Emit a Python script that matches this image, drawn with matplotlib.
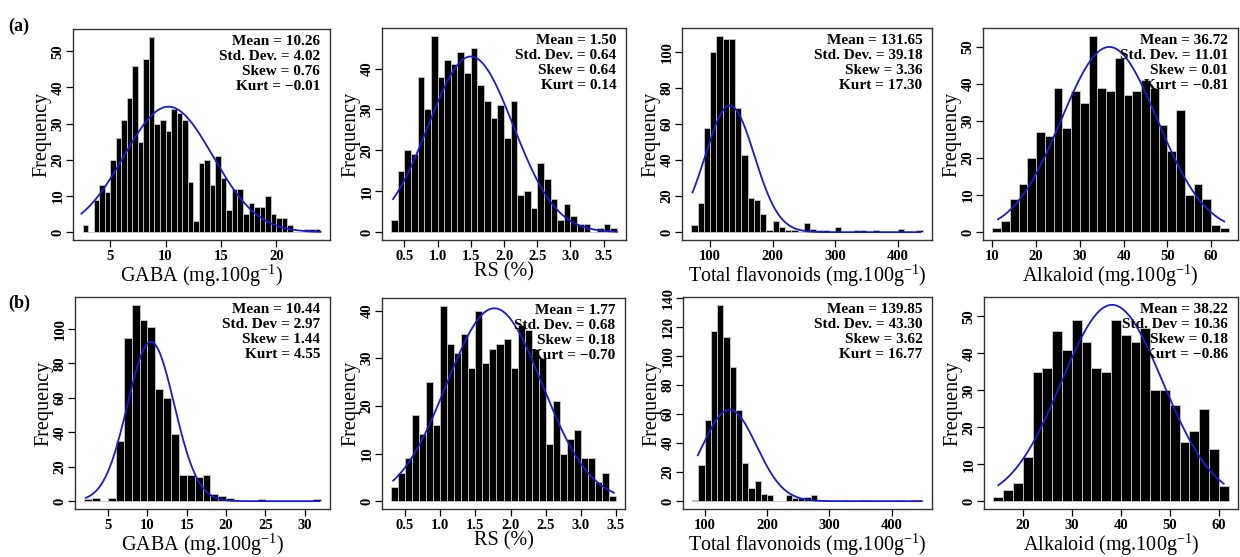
import numpy as np
import matplotlib
matplotlib.use('Agg')
import matplotlib.pyplot as plt

plt.rcParams['font.family'] = ['Liberation Serif', 'DejaVu Serif']
plt.rcParams['mathtext.default'] = 'regular'

## row (a) - histogram counts, bins of fixed width starting at *_start
gaba_a_start, gaba_a_width = 2.5, 0.5
gaba_a_counts = [2, 0, 9, 13, 11, 20, 26, 31, 37, 46, 25, 48, 54, 30, 31, 28, 34, 33, 31, 14, 3,
                 19, 20, 13, 21, 15, 6, 12, 12, 5, 8, 7, 7, 10, 5, 4, 4, 2, 0, 0, 1, 1, 1]
rs_a_start, rs_a_width = 0.3, 0.1
rs_a_counts = [3, 15, 20, 19, 38, 30, 48, 38, 42, 41, 44, 39, 45, 36, 32, 28, 31, 23, 32, 9, 10,
               6, 17, 13, 8, 3, 7, 4, 2, 2, 0, 1, 2, 1]
flav_a_start, flav_a_width = 70, 10
flav_a_counts = [4, 16, 58, 100, 109, 107, 107, 69, 43, 19, 18, 10, 1, 6, 3, 1, 1, 0, 5, 2, 1, 1,
                 0, 3, 0, 0, 1, 1, 0, 1, 0, 0, 0, 2, 0, 0, 1]
alk_a_start, alk_a_width = 10, 2
alk_a_counts = [1, 3, 9, 13, 20, 27, 26, 39, 28, 38, 35, 53, 39, 38, 47, 37, 38, 41, 39, 29, 22,
                33, 10, 13, 9, 2, 1]

## row (b)
gaba_b_start, gaba_b_width = 2, 1
gaba_b_counts = [1, 2, 0, 2, 35, 95, 114, 105, 101, 65, 60, 39, 15, 15, 14, 15, 4, 3, 2, 0, 0, 0,
                 1, 0, 0, 0, 0, 0, 0, 1]
rs_b_start, rs_b_width = 0.3, 0.1
rs_b_counts = [3, 6, 9, 18, 14, 25, 16, 41, 33, 31, 35, 28, 40, 29, 32, 33, 34, 28, 37, 36, 32, 30,
               12, 21, 10, 13, 15, 9, 9, 4, 6, 1]
flav_b_start, flav_b_width = 80, 10
flav_b_counts = [1, 25, 56, 117, 135, 113, 92, 63, 26, 9, 14, 5, 4, 0, 0, 4, 2, 2, 3, 4, 1, 1, 0,
                 0, 1, 0, 0, 1, 1, 0, 0, 0, 0, 1, 0, 1, 1]
alk_b_start, alk_b_width = 14, 2
alk_b_counts = [1, 3, 5, 12, 35, 36, 46, 41, 49, 43, 36, 35, 49, 45, 43, 47, 30, 30, 26, 16, 19,
                25, 14, 4]

## summary statistics printed in each panel (mean, sd used for the normal curve)
means = [10.26, 1.50, 131.65, 36.72, 10.44, 1.77, 139.85, 38.22]
sds = [4.02, 0.64, 39.18, 11.01, 2.97, 0.68, 43.30, 10.36]
skews = ['0.76', '0.64', '3.36', '0.01', '1.44', '0.18', '3.62', '0.18']
kurts = ['\u22120.01', '0.14', '17.30', '\u22120.81', '4.55', '\u22120.70', '16.77', '\u22120.86']
sd_names = ['Std. Dev.', 'Std. Dev.', 'Std. Dev.', 'Std. Dev.', 'Std. Dev', 'Std. Dev.',
            'Std. Dev.', 'Std. Dev']
# data range the fitted curve is drawn over
curve_lo = [2.4, 0.33, 72, 11.3, 2.2, 0.33, 89, 15]
curve_hi = [24, 3.7, 436, 63, 31.8, 3.47, 448, 61]

xlabels = ['GABA (mg.100g$^{-1}$)', 'RS (%)', 'Total flavonoids (mg.100g$^{-1}$)',
           'Alkaloid (mg.100g$^{-1}$)'] * 2
xticks = [[5, 10, 15, 20], [0.5, 1.0, 1.5, 2.0, 2.5, 3.0, 3.5], [100, 200, 300, 400],
          [10, 20, 30, 40, 50, 60],
          [5, 10, 15, 20, 25, 30], [0.5, 1.0, 1.5, 2.0, 2.5, 3.0, 3.5], [100, 200, 300, 400],
          [20, 30, 40, 50, 60]]
yticks = [range(0, 51, 10), range(0, 41, 10), range(0, 101, 20), range(0, 51, 10),
          range(0, 101, 20), range(0, 41, 10), range(0, 141, 20), range(0, 51, 10)]

hists = [(gaba_a_start, gaba_a_width, gaba_a_counts), (rs_a_start, rs_a_width, rs_a_counts),
         (flav_a_start, flav_a_width, flav_a_counts), (alk_a_start, alk_a_width, alk_a_counts),
         (gaba_b_start, gaba_b_width, gaba_b_counts), (rs_b_start, rs_b_width, rs_b_counts),
         (flav_b_start, flav_b_width, flav_b_counts), (alk_b_start, alk_b_width, alk_b_counts)]

# axes boxes in pixels (left, right, top, bottom) on a 1240x557 canvas
W, H = 1240, 557
boxes = [(73, 330, 29, 240), (382, 626, 28, 240), (682, 932, 28, 240), (983, 1238, 28, 240),
         (75, 330, 297, 509), (382, 625, 298, 509), (683, 932, 297, 509), (984, 1238, 297, 509)]

fig = plt.figure(figsize=(W / 100, H / 100), dpi=100)

for i in range(8):
    l, r, t, b = boxes[i]
    ax = fig.add_axes([l / W, 1 - b / H, (r - l) / W, (b - t) / H])
    start, width, counts = hists[i]
    counts = np.array(counts)
    edges = start + width * np.arange(len(counts) + 1)
    ax.bar(edges[:-1], counts, width=width, align='edge', color='black',
           edgecolor='#c8c8c8', linewidth=0.6)

    n = counts.sum()
    xs = np.linspace(curve_lo[i], curve_hi[i], 300)
    ys = n * width * np.exp(-0.5 * ((xs - means[i]) / sds[i]) ** 2) / (sds[i] * np.sqrt(2 * np.pi))
    ax.plot(xs, ys, color='#1a1ad0', linewidth=1.3)

    # R style 4% padding
    span = edges[-1] - edges[0]
    ax.set_xlim(edges[0] - 0.04 * span, edges[-1] + 0.04 * span)
    ymax = max(counts.max(), ys.max())
    ax.set_ylim(-0.04 * ymax, 1.04 * ymax)

    ax.set_xticks(xticks[i])
    ax.set_xticklabels([f'{v:.1f}' if isinstance(v, float) else str(v) for v in xticks[i]])
    ax.set_yticks(list(yticks[i]))
    ax.tick_params(direction='out', length=5, width=0.9, labelsize=10.5)
    ax.tick_params(axis='x', pad=2)
    ax.tick_params(axis='y', pad=1)
    for lab in ax.get_xticklabels():
        lab.set_fontweight('bold')
    for lab in ax.get_yticklabels():
        lab.set_fontweight('bold')
        lab.set_rotation(90)
        lab.set_va('center')
    for sp in ax.spines.values():
        sp.set_linewidth(1.0)
        sp.set_color('#333333')

    ax.set_xlabel(xlabels[i], fontsize=14.5, labelpad=0)
    ax.set_ylabel('Frequency', fontsize=14.5, labelpad=0)

    stats = [f'Mean = {means[i]:.2f}', f'{sd_names[i]} = {sds[i]:.2f}',
             f'Skew = {skews[i]}', f'Kurt = {kurts[i]}']
    ax.annotate('\n'.join(stats), xy=(1, 1), xycoords='axes fraction', xytext=(-7, -4),
                textcoords='offset points', ha='right', va='top', fontsize=11,
                fontweight='bold', linespacing=1.22)

fig.text(8 / W, 1 - 26 / H, '(a)', fontsize=13, fontweight='bold', va='center')
fig.text(8 / W, 1 - 303 / H, '(b)', fontsize=13, fontweight='bold', va='center')

fig.savefig('out.png', dpi=100)
